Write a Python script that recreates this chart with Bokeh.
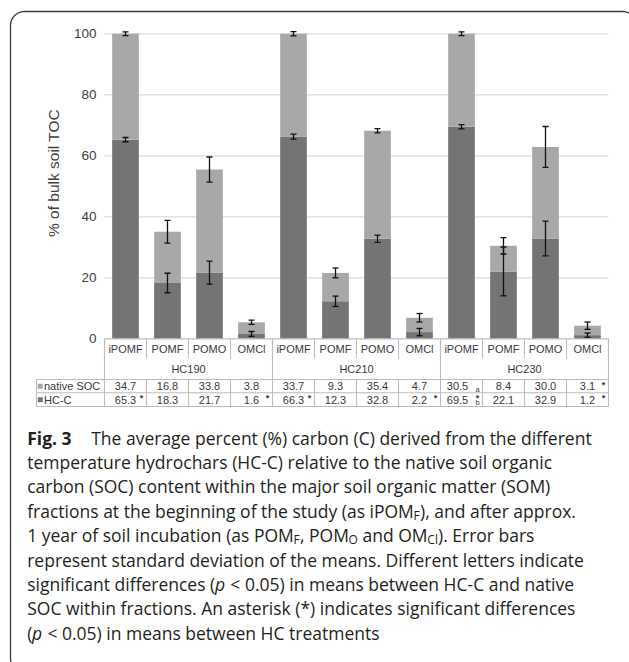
import numpy as np
from bokeh.plotting import figure
from bokeh.models import Range1d, Grid
from bokeh.core.properties import value
from bokeh.embed import file_html
from bokeh.resources import INLINE

# ---------------- data ----------------
groups = ["HC190", "HC210", "HC230"]
fractions = ["iPOMF", "POMF", "POMO", "OMCl"]
series_names = ["native SOC", "HC-C"]
native_soc = [34.7, 16.8, 33.8, 3.8, 33.7, 9.3, 35.4, 4.7, 30.5, 8.4, 30.0, 3.1]
hc_c = [65.3, 18.3, 21.7, 1.6, 66.3, 12.3, 32.8, 2.2, 69.5, 22.1, 32.9, 1.2]
native_sd = [0.6, 3.7, 4.1, 0.7, 0.7, 1.6, 0.7, 1.4, 0.6, 2.7, 6.7, 1.2]
hc_c_sd = [0.7, 3.2, 3.8, 0.8, 0.8, 1.7, 1.2, 1.2, 0.7, 8.0, 5.7, 0.7]
native_star = ["", "", "", "", "", "", "", "", "", "", "", "*"]
hc_c_star = ["*", "", "", "*", "*", "", "", "*", "*", "", "", "*"]
native_letter = ["", "", "", "", "", "", "", "", "a", "", "", ""]
hc_c_letter = ["", "", "", "", "", "", "", "", "b", "", "", ""]
y_ticks = [0, 20, 40, 60, 80, 100]
y_title = "% of bulk soil TOC"
caption_lines = [
    [("Fig. 3", "bold"), ("The average percent (%) carbon (C) derived from the different", "normal")],
    [("temperature hydrochars (HC-C) relative to the native soil organic", "normal")],
    [("carbon (SOC) content within the major soil organic matter (SOM)", "normal")],
    [("fractions at the beginning of the study (as iPOM", "normal"), ("F", "sub"),
     ("), and after approx.", "normal")],
    [("1 year of soil incubation (as POM", "normal"), ("F", "sub"), (", POM", "normal"),
     ("O", "sub"), (" and OM", "normal"), ("Cl", "sub"), ("). Error bars", "normal")],
    [("represent standard deviation of the means. Different letters indicate", "normal")],
    [("significant differences (", "normal"), ("p", "italic"),
     (" < 0.05) in means between HC-C and native", "normal")],
    [("SOC within fractions. An asterisk (*) indicates significant differences", "normal")],
    [("(", "normal"), ("p", "italic"), (" < 0.05) in means between HC treatments", "normal")],
]

# ---------------- layout / style ----------------
W, H = 629, 662
PL, PR = 104.0, 608.0         # plot area left / right (px)
Y0, Y100 = 338.3, 33.3        # pixel rows of 0 % and 100 %
n = len(hc_c)
cw = (PR - PL) / n
ppu = (Y0 - Y100) / 100.0

DARK = "#747474"
LIGHT = "#a8a8a8"
GRID = "#d9d9d9"
TABLE = "#bdbdbd"
TXT = "#3a3a3a"
AX_FONT = value("Liberation Sans")
CAP_FONT = value("Open Sans")

p = figure(width=W, height=H, output_backend="svg", toolbar_location=None,
           x_range=Range1d(-PL / cw, n + (W - PR) / cw),
           y_range=Range1d(-(H - Y0) / ppu, Y0 / ppu),
           x_axis_location=None, y_axis_location=None,
           min_border=0, outline_line_color=None,
           background_fill_color="white", border_fill_color="white")
p.center = [c for c in p.center if not isinstance(c, Grid)]
p.extra_x_ranges = {"px": Range1d(0, W)}
p.extra_y_ranges = {"px": Range1d(H, 0)}

xc = np.arange(n) + 0.5
hc = np.array(hc_c)
nat = np.array(native_soc)
tot = hc + nat

# gridlines
gt = [t for t in y_ticks if t > 0]
p.segment(x0=[0] * len(gt), x1=[n] * len(gt), y0=gt, y1=gt, line_color=GRID, line_width=1.2)

# bars
BW = 0.635
p.vbar(x=xc, width=BW, bottom=0, top=hc, fill_color=DARK, line_color=None)
p.vbar(x=xc, width=BW, bottom=hc, top=tot, fill_color=LIGHT, line_color=None)

# error bars
cap = 3.0 / cw
for centre, sd in ((hc, np.array(hc_c_sd)), (tot, np.array(native_sd))):
    lo, hi = centre - sd, centre + sd
    p.segment(x0=xc, x1=xc, y0=lo, y1=hi, line_color="#111111", line_width=1.3)
    p.segment(x0=xc - cap, x1=xc + cap, y0=hi, y1=hi, line_color="#111111", line_width=1.3)
    p.segment(x0=xc - cap, x1=xc + cap, y0=lo, y1=lo, line_color="#111111", line_width=1.3)

# axis line (top of table)
p.segment(x0=[0], x1=[n], y0=[0], y1=[0], line_color=TABLE, line_width=1.2)

# y tick labels and title
p.text(x=[PL - 8] * len(y_ticks), y=y_ticks, text=[str(t) for t in y_ticks],
       x_range_name="px", text_align="right", text_baseline="middle",
       text_font=AX_FONT, text_font_size=value("13.5px"), text_color="#404040")
p.text(x=[53], y=[172.5], text=[y_title], angle=np.pi / 2,
       x_range_name="px", y_range_name="px", text_align="center", text_baseline="middle",
       text_font=AX_FONT, text_font_size=value("15.5px"), text_color="#404040")

# ---------------- data table ----------------
R_SUB, R_GRP_END, R1_TOP, R1_BOT, R2_BOT = 358.0, 379.0, 379.0, 392.3, 406.0
row_c = [(R1_TOP + R1_BOT) / 2, (R1_BOT + R2_BOT) / 2]
kk = np.arange(n + 1)
p.segment(x0=kk, x1=kk, y0=[Y0] * (n + 1), y1=[R_SUB] * (n + 1), y_range_name="px",
          line_color=TABLE, line_width=1.1)
gk = np.arange(0, n + 1, len(fractions))
p.segment(x0=gk, x1=gk, y0=[Y0] * len(gk), y1=[R_GRP_END] * len(gk), y_range_name="px",
          line_color=TABLE, line_width=1.1)
p.segment(x0=kk, x1=kk, y0=[R1_TOP] * (n + 1), y1=[R2_BOT] * (n + 1), y_range_name="px",
          line_color=TABLE, line_width=1.1)
LEFT_T = 36.0
p.segment(x0=[LEFT_T], x1=[LEFT_T], y0=[R1_TOP], y1=[R2_BOT], x_range_name="px", y_range_name="px",
          line_color=TABLE, line_width=1.1)
p.segment(x0=[LEFT_T] * 3, x1=[PR] * 3, y0=[R1_TOP, R1_BOT, R2_BOT], y1=[R1_TOP, R1_BOT, R2_BOT],
          x_range_name="px", y_range_name="px", line_color=TABLE, line_width=1.1)

sub_labels = fractions * len(groups)
p.text(x=xc, y=[348.5] * n, text=sub_labels, y_range_name="px", text_align="center",
       text_baseline="middle", text_font=AX_FONT, text_font_size=value("11px"), text_color=TXT)
p.text(x=np.arange(len(groups)) * len(fractions) + len(fractions) / 2, y=[368.5] * len(groups),
       text=groups, y_range_name="px", text_align="center", text_baseline="middle",
       text_font=AX_FONT, text_font_size=value("11px"), text_color=TXT)

# legend keys + row names
p.scatter(x=[LEFT_T + 3.8] * 2, y=row_c, marker="square", size=5, fill_color=[LIGHT, DARK],
          line_color=None, x_range_name="px", y_range_name="px")
p.text(x=[LEFT_T + 7.5] * 2, y=row_c, text=series_names, x_range_name="px", y_range_name="px",
       text_align="left", text_baseline="middle", text_font=AX_FONT,
       text_font_size=value("11px"), text_color=TXT)

for r, (vals, stars, letters) in enumerate(((native_soc, native_star, native_letter),
                                           (hc_c, hc_c_star, hc_c_letter))):
    offs = [-4 if (native_letter[i] or hc_c_letter[i]) else 0 for i in range(n)]
    p.text(x=xc, y=[row_c[r]] * n, text=[f"{v:.1f}" for v in vals], x_offset=offs,
           y_range_name="px", text_align="center", text_baseline="middle",
           text_font=AX_FONT, text_font_size=value("11px"), text_color=TXT)
    p.text(x=kk[1:], y=[row_c[r] - 1.5] * n, text=stars, x_offset=-5,
           y_range_name="px", text_align="center", text_baseline="middle",
           text_font=AX_FONT, text_font_size=value("9px"), text_font_style="bold", text_color=TXT)
    p.text(x=kk[1:], y=[row_c[r] + 3.0] * n, text=letters, x_offset=-5,
           y_range_name="px", text_align="center", text_baseline="middle",
           text_font=AX_FONT, text_font_size=value("7.5px"), text_color=TXT)

# ---------------- caption ----------------
OS_W = {' ': 532, '(': 575, ')': 575, '*': 1124, ',': 500, '-': 659, '.': 545, '<': 1171, '%': 1696,
        'A': 1296, 'C': 1292, 'D': 1479, 'E': 1139, 'F': 1104, 'H': 1511, 'I': 571, 'M': 1812,
        'O': 1599, 'P': 1237, 'S': 1096, 'T': 1120,
        'a': 1139, 'b': 1255, 'c': 975, 'd': 1255, 'e': 1149, 'f': 694, 'g': 1122, 'h': 1257,
        'i': 518, 'j': 518, 'k': 1075, 'l': 518, 'm': 1905, 'n': 1257, 'o': 1237, 'p': 1255,
        'q': 1255, 'r': 836, 's': 977, 't': 723, 'u': 1257, 'v': 1026, 'w': 1593, 'x': 1073,
        'y': 1028, 'z': 977}


def tw(s, size):
    return sum(OS_W.get(ch, 1171) for ch in s) / 2048.0 * size


CAP_X, CAP_BASE, CAP_LEAD = 26.7, 437.0, 24.4
CAP_SIZE, SUB_SIZE, FIG_GAP = 17.5, 12.0, 64.0
segs = {"normal": ([], [], []), "bold": ([], [], []), "italic": ([], [], []), "sub": ([], [], [])}
for li, line in enumerate(caption_lines):
    base = CAP_BASE + li * CAP_LEAD
    x = CAP_X
    for txt, kind in line:
        size = SUB_SIZE if kind == "sub" else CAP_SIZE
        yb = base + 4.5 if kind == "sub" else base
        body = txt.lstrip(" ")
        x += tw(txt[:len(txt) - len(body)], size)   # SVG drops leading blanks
        sx, sy, st = segs[kind]
        sx.append(x)
        sy.append(yb)
        st.append(body)
        x = CAP_X + FIG_GAP if kind == "bold" else x + tw(body, size)

for kind, (sx, sy, st) in segs.items():
    p.text(x=sx, y=sy, text=st, x_range_name="px", y_range_name="px",
           text_align="left", text_baseline="alphabetic", text_font=CAP_FONT,
           text_font_size=value(f"{SUB_SIZE if kind == 'sub' else CAP_SIZE}px"),
           text_font_style="bold" if kind == "bold" else ("italic" if kind == "italic" else "normal"),
           text_color="#231f20")

# ---------------- rounded frame ----------------
fl, ft, fr, fb, rad = 10.0, 11.0, 636.0, 672.0, 14.0
a = np.linspace(0, np.pi / 2, 12)
fx = np.concatenate([fl + rad - rad * np.cos(a), fr - rad + rad * np.sin(a),
                     fr - rad + rad * np.cos(a), fl + rad - rad * np.sin(a), [fl]])
fy = np.concatenate([ft + rad - rad * np.sin(a), ft + rad - rad * np.cos(a),
                     fb - rad + rad * np.sin(a), fb - rad + rad * np.cos(a), [ft + rad]])
p.line(fx, fy, x_range_name="px", y_range_name="px", line_color="#3a3a3a", line_width=1.3)

open("out.html", "w").write(file_html(p, INLINE))
